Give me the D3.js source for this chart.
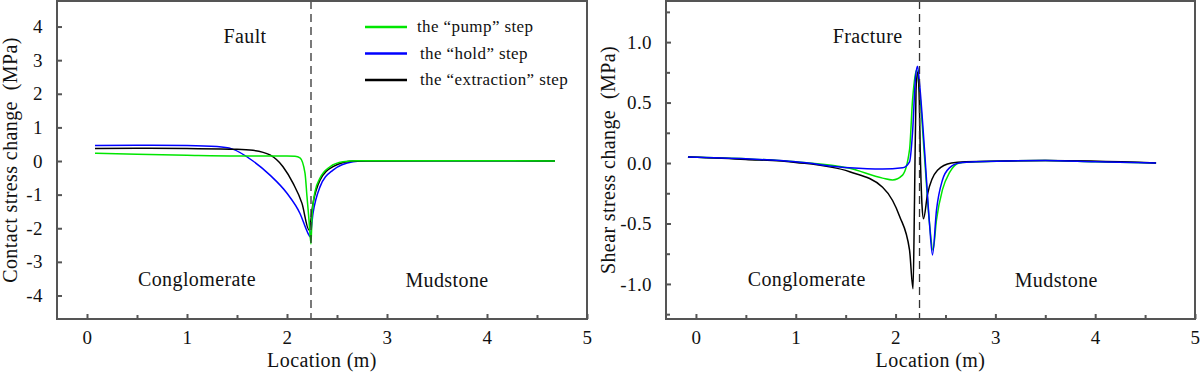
<!DOCTYPE html>
<html><head><meta charset="utf-8">
<script src="https://cdn.jsdelivr.net/npm/d3@7"></script>
<style>
html,body{margin:0;padding:0;background:#fff;}
svg text{font-family:"Liberation Serif","Times New Roman",serif !important;fill:#111;letter-spacing:0.4px;}
</style></head>
<body><svg id="c" width="1200" height="374"></svg>
<script>
// ---------- data ----------
const seriesNames = ['the \u201cpump\u201d step', 'the \u201chold\u201d step', 'the \u201cextraction\u201d step'];
const seriesColors = ['#00e600', '#0000ff', '#000000'];

// Left panel: contact stress change (MPa) vs location (m)
const contactPump = [[0.08,0.23],[0.5,0.2],[1.0,0.17],[1.5,0.15],[2.0,0.15],[2.08,0.14],[2.13,0.09],[2.18,-0.36],[2.20,-1.06],[2.22,-1.76],[2.24,-2.47],[2.25,-1.66],[2.28,-0.91],[2.33,-0.51],[2.43,-0.17],[2.56,-0.02],[2.7,0.01],[3.5,0.01],[4.68,0.0]];
const contactHold = [[0.08,0.46],[0.5,0.47],[1.0,0.46],[1.3,0.43],[1.45,0.36],[1.66,0.0],[1.83,-0.42],[2.0,-0.96],[2.13,-1.56],[2.21,-2.15],[2.23,-2.25],[2.26,-1.56],[2.33,-0.77],[2.46,-0.27],[2.66,-0.02],[2.8,0.01],[3.5,0.01],[4.68,0.0]];
const contactExtraction = [[0.08,0.37],[0.5,0.38],[1.0,0.37],[1.5,0.35],[1.66,0.32],[1.83,0.18],[1.96,-0.17],[2.06,-0.66],[2.15,-1.26],[2.22,-2.05],[2.26,-1.26],[2.33,-0.57],[2.46,-0.17],[2.66,0.0],[3.5,0.01],[4.68,0.0]];

// Right panel: shear stress change (MPa) vs location (m)
const shearPump = [[-0.08,0.05],[0.5,0.035],[1.0,0.01],[1.54,-0.044],[1.87,-0.125],[1.97,-0.14],[2.07,-0.1],[2.14,0.11],[2.17,0.52],[2.21,0.77],[2.24,0.6],[2.29,0.05],[2.34,-0.5],[2.375,-0.72],[2.41,-0.47],[2.47,-0.22],[2.54,-0.08],[2.64,0.0],[2.8,0.01],[3.5,0.02],[4.0,0.01],[4.61,0.0]];
const shearHold = [[-0.08,0.05],[0.5,0.035],[1.0,0.01],[1.54,-0.04],[1.87,-0.05],[2.07,-0.04],[2.14,0.01],[2.17,0.25],[2.20,0.71],[2.22,0.80],[2.24,0.66],[2.29,0.11],[2.34,-0.50],[2.37,-0.76],[2.41,-0.39],[2.47,-0.14],[2.54,-0.04],[2.64,0.0],[2.8,0.01],[3.5,0.02],[4.0,0.01],[4.61,0.0]];
const shearExtraction = [[-0.08,0.05],[0.5,0.03],[1.0,0.005],[1.54,-0.072],[1.87,-0.2],[1.97,-0.31],[2.04,-0.44],[2.14,-0.72],[2.175,-1.04],[2.19,-0.3],[2.205,0.6],[2.22,0.75],[2.235,0.6],[2.25,0.0],[2.265,-0.35],[2.28,-0.46],[2.32,-0.26],[2.42,-0.06],[2.56,0.0],[2.7,0.01],[3.5,0.02],[4.61,0.0]];

const xTicks = [0,1,2,3,4,5];
const xMinorTicks = [0.5,1.5,2.5,3.5,4.5];
const contactTicks = [-4,-3,-2,-1,0,1,2,3,4];
const shearTicks = [-1.0,-0.5,0.0,0.5,1.0];
const shearMinorTicks = [-1.25,-0.75,-0.25,0.25,0.75,1.25];
const interfaceX = 2.24;

// ---------- drawing ----------
const svg = d3.select('#c');
const hy = f => (d => f(d).replace('\u2212','-'));

function panel(opts){
  const {x0,x1,y0,y1,xDom,yDom,yTicks,yMinor,yFmt,series,order,ylabel,labels,ylabelX,tickRight} = opts;
  const g = svg.append('g');
  const x = d3.scaleLinear().domain(xDom).range([x0,x1]);
  const y = d3.scaleLinear().domain(yDom).range([y1,y0]);
  const line = d3.line().x(d=>x(d[0])).y(d=>y(d[1])).curve(d3.curveMonotoneX);

  order.forEach(i=>{
    g.append('path').attr('d',line(series[i])).attr('fill','none')
      .attr('stroke',seriesColors[i]).attr('stroke-width',1.5);
  });
  g.append('line').attr('x1',x(interfaceX)).attr('x2',x(interfaceX))
    .attr('y1',y0).attr('y2',y1).attr('stroke','#333').attr('stroke-width',1.3)
    .attr('stroke-dasharray','8,5');

  const xa = d3.axisBottom(x).tickValues(xTicks).tickSize(-5).tickPadding(12).tickFormat(d3.format('d'));
  const xg = g.append('g').attr('transform',`translate(0,${y1})`).call(xa);
  const xm = g.append('g').attr('transform',`translate(0,${y1})`).call(d3.axisBottom(x).tickValues(xMinorTicks).tickSize(-4).tickFormat(''));
  const ya = d3.axisLeft(y).tickValues(yTicks).tickSize(-5).tickPadding(tickRight).tickFormat(hy(yFmt));
  const yg = g.append('g').attr('transform',`translate(${x0},0)`).call(ya);
  [xg,xm,yg].forEach(a=>{
    a.attr('font-family','"Liberation Serif", serif').attr('font-size',19);
    a.select('.domain').remove();
    a.selectAll('line').attr('stroke','#555').attr('stroke-width',2);
    a.selectAll('text').attr('fill','#111');
  });
  if(yMinor){
    const ym = g.append('g').attr('transform',`translate(${x0},0)`).call(d3.axisLeft(y).tickValues(yMinor).tickSize(-4).tickFormat(''));
    ym.select('.domain').remove();
    ym.selectAll('line').attr('stroke','#555').attr('stroke-width',2);
  }
  g.append('rect').attr('x',x0).attr('y',y0).attr('width',x1-x0).attr('height',y1-y0)
    .attr('fill','none').attr('stroke','#555').attr('stroke-width',2);

  g.append('text').attr('x',(x0+x1)/2).attr('y',367).attr('text-anchor','middle')
    .style('font-size','20px').text('Location (m)');
  g.append('text').attr('transform',`translate(${ylabelX},${(y0+y1)/2}) rotate(-90)`)
    .attr('text-anchor','middle').style('font-size','20px').attr('xml:space','preserve').text(ylabel);

  labels.forEach(l=>{
    g.append('text').attr('x',x(l.x)).attr('y',l.py).attr('text-anchor','middle')
      .style('font-size','20px').text(l.t);
  });
  return {x,y,g};
}

const left = panel({
  x0:57,x1:587,y0:1,y1:319,xDom:[-0.3,5.0],yDom:[-4.7,4.76],
  yTicks:contactTicks,yMinor:null,yFmt:d3.format('d'),tickRight:14,
  series:[contactPump,contactHold,contactExtraction],order:[1,2,0],
  ylabel:'Contact stress change  (MPa)',ylabelX:17,
  labels:[{t:'Fault',x:1.58,py:43},{t:'Conglomerate',x:1.1,py:286},{t:'Mudstone',x:3.6,py:287}]
});
const right = panel({
  x0:666,x1:1195,y0:1,y1:319,xDom:[-0.3,5.0],yDom:[-1.29,1.34],
  yTicks:shearTicks,yMinor:shearMinorTicks,yFmt:d3.format('.1f'),tickRight:14,
  series:[shearPump,shearHold,shearExtraction],order:[0,2,1],
  ylabel:'Shear stress change  (MPa)',ylabelX:615,
  labels:[{t:'Fracture',x:1.72,py:43},{t:'Conglomerate',x:1.11,py:286},{t:'Mudstone',x:3.61,py:287}]
});

const lg = left.g.append('g');
seriesNames.forEach((n,i)=>{
  const yy = 27 + i*26.5;
  lg.append('line').attr('x1',365).attr('x2',407).attr('y1',yy).attr('y2',yy)
    .attr('stroke',seriesColors[i]).attr('stroke-width',2.5);
  lg.append('text').attr('x',i===0?417:420).attr('y',yy+5).style('font-size','17px').text(n);
});
</script></body></html>
